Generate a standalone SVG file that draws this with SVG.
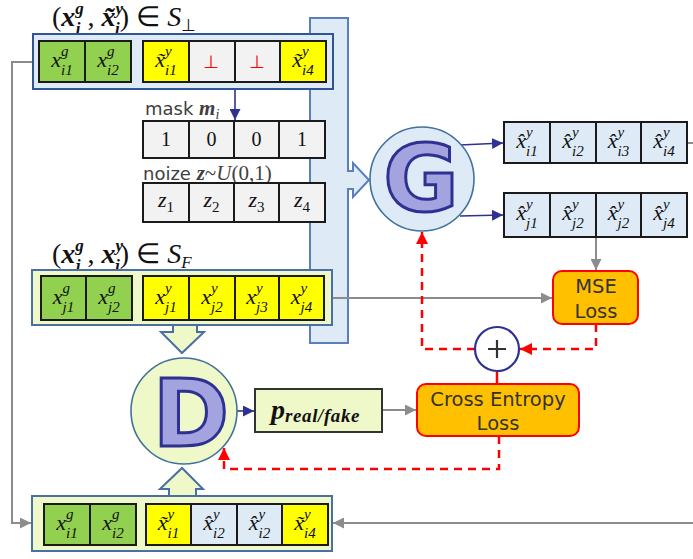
<svg xmlns="http://www.w3.org/2000/svg" width="693" height="559" viewBox="0 0 693 559">
<style>
.cg{fill:#92D050;stroke:#1a1a1a;stroke-width:2}
.cy{fill:#FFFF00;stroke:#1a1a1a;stroke-width:2}
.cw{fill:#F2F2F2;stroke:#1a1a1a;stroke-width:2}
.cb{fill:#DEEBF7;stroke:#1a1a1a;stroke-width:2}
.m{font-family:"Liberation Serif",serif;font-style:italic;font-size:22px;fill:#111}
.s{font-size:15px}
.n{font-family:"Liberation Serif",serif;font-size:20px;fill:#111}
.lab{font-family:"DejaVu Sans",sans-serif;font-size:18px;fill:#404040}
.ttl{font-family:"Liberation Serif",serif;font-size:28px;fill:#111}
.bi{font-weight:bold;font-style:italic}
.loss{font-family:"DejaVu Sans",sans-serif;font-size:19.5px;fill:#333;text-anchor:middle}
.gray{fill:none;stroke:#8c8c8c;stroke-width:2}
.blue{fill:none;stroke:#2E3192;stroke-width:1.6}
.red{fill:none;stroke:#FF0000;stroke-width:2.5;stroke-dasharray:8,6}
.big{font-family:"DejaVu Sans",sans-serif;font-weight:bold;font-size:92px;fill:#A3A3E0;stroke:#2E3192;stroke-width:3;text-anchor:middle}
</style>
<defs>
<marker id="ag" viewBox="0 0 10 10" refX="10" refY="5" markerWidth="11" markerHeight="11" markerUnits="userSpaceOnUse" orient="auto"><path d="M0,0 L10,5 L0,10 z" fill="#8c8c8c"/></marker>
<marker id="ab" viewBox="0 0 10 10" refX="10" refY="5" markerWidth="11" markerHeight="11" markerUnits="userSpaceOnUse" orient="auto"><path d="M0,0 L10,5 L0,10 z" fill="#2E3192"/></marker>
<marker id="ar" viewBox="0 0 10 10" refX="10" refY="5" markerWidth="12" markerHeight="12" markerUnits="userSpaceOnUse" orient="auto"><path d="M0,0 L10,5 L0,10 z" fill="#FF0000"/></marker>
</defs>

<g id="generator-input">
<path d="M310,18 H348 V171 H353 V163 L369,180 L353,197 V189 H348 V343 H310 Z" fill="#DEEBF7" stroke="#5A7FBE" stroke-width="2"/>
</g>

<g id="connectors">
<path class="gray" d="M33,62 H12 V523 H31" marker-end="url(#ag)"/>
<path class="gray" d="M693,523 H333" marker-end="url(#ag)"/>
<path class="gray" d="M687,143 H693"/>
<path class="gray" d="M325,298 H552" marker-end="url(#ag)"/>
<path class="gray" d="M596,237 V270" marker-end="url(#ag)"/>
<path class="gray" d="M382,410 H416" marker-end="url(#ag)"/>
<path class="blue" d="M235,82 V120" marker-end="url(#ab)"/>
<path class="blue" d="M460,145 L503,143" marker-end="url(#ab)"/>
<path class="blue" d="M460,216 L503,215" marker-end="url(#ab)"/>
<path class="blue" d="M237,411 H254" marker-end="url(#ab)"/>
<path class="red" d="M596,324 V349 H520" marker-end="url(#ar)"/>
<path class="red" d="M475,349 H422 V232" marker-end="url(#ar)"/>
<path d="M497,371 V384" stroke="#FF0000" stroke-width="2.5"/>
<path class="red" d="M499,436 V469 H224 V448" marker-end="url(#ar)"/>
</g>

<g id="row-i">
<text class="ttl" x="52" y="26">(<tspan class="bi">x</tspan><tspan class="bi" font-size="17" dy="-12">g</tspan><tspan class="bi" font-size="17" dx="-8" dy="20">i</tspan><tspan dy="-8"> , </tspan><tspan class="bi">x̃</tspan><tspan class="bi" font-size="17" dy="-12">y</tspan><tspan class="bi" font-size="17" dx="-8" dy="20">i</tspan><tspan dy="-8">) ∈ </tspan><tspan font-style="italic">S</tspan><tspan font-size="17" dy="5">⊥</tspan></text>
<rect x="33" y="34" width="300" height="55" fill="#DEEBF7" stroke="#2F5597" stroke-width="2"/>
<rect class="cg" x="39" y="41" width="46" height="41"/>
<rect class="cg" x="85" y="41" width="46" height="41"/>
<rect class="cy" x="143" y="41" width="46" height="41"/>
<rect class="cw" x="189" y="41" width="46" height="41"/>
<rect class="cw" x="235" y="41" width="45" height="41"/>
<rect class="cy" x="280" y="41" width="46" height="41"/>
<text class="m" x="62" y="67" text-anchor="middle">x<tspan class="s" dy="-11">g</tspan><tspan class="s" dx="-7.5" dy="19">i1</tspan></text>
<text class="m" x="108" y="67" text-anchor="middle">x<tspan class="s" dy="-11">g</tspan><tspan class="s" dx="-7.5" dy="19">i2</tspan></text>
<text class="m" x="166" y="67" text-anchor="middle">x̃<tspan class="s" dy="-11">y</tspan><tspan class="s" dx="-6.7" dy="19">i1</tspan></text>
<text x="211" y="68" font-family="DejaVu Sans,sans-serif" font-size="18" fill="#FF0000" text-anchor="middle">⊥</text>
<text x="257" y="68" font-family="DejaVu Sans,sans-serif" font-size="18" fill="#FF0000" text-anchor="middle">⊥</text>
<text class="m" x="303" y="67" text-anchor="middle">x̃<tspan class="s" dy="-11">y</tspan><tspan class="s" dx="-6.7" dy="19">i4</tspan></text>
</g>

<g id="mask">
<text class="lab" x="145" y="115">mask <tspan font-family="Liberation Serif,serif" class="bi" font-size="21">m</tspan><tspan font-family="Liberation Serif,serif" font-style="italic" font-size="14" dy="4">i</tspan></text>
<rect class="cw" x="143" y="121" width="46" height="37"/>
<rect class="cw" x="189" y="121" width="45" height="37"/>
<rect class="cw" x="234" y="121" width="45" height="37"/>
<rect class="cw" x="279" y="121" width="46" height="37"/>
<text class="n" x="166" y="146" text-anchor="middle">1</text>
<text class="n" x="211.5" y="146" text-anchor="middle">0</text>
<text class="n" x="256.5" y="146" text-anchor="middle">0</text>
<text class="n" x="302" y="146" text-anchor="middle">1</text>
</g>

<g id="noise">
<text class="lab" x="143" y="180">noize <tspan font-family="Liberation Serif,serif" class="bi" font-size="21">z</tspan><tspan font-family="Liberation Serif,serif" font-size="21">~</tspan><tspan font-family="Liberation Serif,serif" font-style="italic" font-size="21">U</tspan><tspan font-family="Liberation Serif,serif" font-size="21">(0,1)</tspan></text>
<rect class="cw" x="143" y="183" width="46" height="39"/>
<rect class="cw" x="189" y="183" width="45" height="39"/>
<rect class="cw" x="234" y="183" width="45" height="39"/>
<rect class="cw" x="279" y="183" width="46" height="39"/>
<text class="m" x="166" y="207" text-anchor="middle">z<tspan class="s" font-style="normal" dy="5">1</tspan></text>
<text class="m" x="211.5" y="207" text-anchor="middle">z<tspan class="s" font-style="normal" dy="5">2</tspan></text>
<text class="m" x="256.5" y="207" text-anchor="middle">z<tspan class="s" font-style="normal" dy="5">3</tspan></text>
<text class="m" x="302" y="207" text-anchor="middle">z<tspan class="s" font-style="normal" dy="5">4</tspan></text>
</g>

<g id="row-j">
<text class="ttl" x="52" y="263">(<tspan class="bi">x</tspan><tspan class="bi" font-size="17" dy="-12">g</tspan><tspan class="bi" font-size="17" dx="-8" dy="20">j</tspan><tspan dy="-8"> , </tspan><tspan class="bi">x</tspan><tspan class="bi" font-size="17" dy="-12">y</tspan><tspan class="bi" font-size="17" dx="-8" dy="20">j</tspan><tspan dy="-8">) ∈ </tspan><tspan font-style="italic">S</tspan><tspan font-style="italic" font-size="17" dy="5">F</tspan></text>
<path d="M173,325 V332 H161 L182,353 L204,332 H197 V325" fill="#EEF8C8" stroke="#4A6FA5" stroke-width="2"/>
<rect x="32" y="270" width="300" height="55" fill="#EEF8C8" stroke="#4A6FA5" stroke-width="2"/>
<rect class="cg" x="41" y="276" width="45" height="44"/>
<rect class="cg" x="86" y="276" width="46" height="44"/>
<rect class="cy" x="143" y="276" width="46" height="44"/>
<rect class="cy" x="189" y="276" width="46" height="44"/>
<rect class="cy" x="235" y="276" width="44" height="44"/>
<rect class="cy" x="279" y="276" width="45" height="44"/>
<text class="m" x="63.5" y="304" text-anchor="middle">x<tspan class="s" dy="-11">g</tspan><tspan class="s" dx="-7.5" dy="19">j1</tspan></text>
<text class="m" x="109" y="304" text-anchor="middle">x<tspan class="s" dy="-11">g</tspan><tspan class="s" dx="-7.5" dy="19">j2</tspan></text>
<text class="m" x="166" y="304" text-anchor="middle">x<tspan class="s" dy="-11">y</tspan><tspan class="s" dx="-6.7" dy="19">j1</tspan></text>
<text class="m" x="212" y="304" text-anchor="middle">x<tspan class="s" dy="-11">y</tspan><tspan class="s" dx="-6.7" dy="19">j2</tspan></text>
<text class="m" x="257" y="304" text-anchor="middle">x<tspan class="s" dy="-11">y</tspan><tspan class="s" dx="-6.7" dy="19">j3</tspan></text>
<text class="m" x="301.5" y="304" text-anchor="middle">x<tspan class="s" dy="-11">y</tspan><tspan class="s" dx="-6.7" dy="19">j4</tspan></text>
</g>

<g id="G">
<circle cx="422" cy="179" r="52" fill="#DEEBF7" stroke="#41719C" stroke-width="1.6"/>
<text class="big" x="421" y="211">G</text>
</g>

<g id="out-i">
<rect class="cb" x="504" y="122" width="46" height="41"/>
<rect class="cb" x="550" y="122" width="46" height="41"/>
<rect class="cb" x="596" y="122" width="45" height="41"/>
<rect class="cb" x="641" y="122" width="46" height="41"/>
<text class="m" x="527" y="148" text-anchor="middle">x̂<tspan class="s" dy="-11">y</tspan><tspan class="s" dx="-6.7" dy="19">i1</tspan></text>
<text class="m" x="573" y="148" text-anchor="middle">x̂<tspan class="s" dy="-11">y</tspan><tspan class="s" dx="-6.7" dy="19">i2</tspan></text>
<text class="m" x="618.5" y="148" text-anchor="middle">x̂<tspan class="s" dy="-11">y</tspan><tspan class="s" dx="-6.7" dy="19">i3</tspan></text>
<text class="m" x="664" y="148" text-anchor="middle">x̂<tspan class="s" dy="-11">y</tspan><tspan class="s" dx="-6.7" dy="19">i4</tspan></text>
</g>

<g id="out-j">
<rect class="cb" x="504" y="193" width="46" height="44"/>
<rect class="cb" x="550" y="193" width="46" height="44"/>
<rect class="cb" x="596" y="193" width="45" height="44"/>
<rect class="cb" x="641" y="193" width="46" height="44"/>
<text class="m" x="527" y="220" text-anchor="middle">x̂<tspan class="s" dy="-11">y</tspan><tspan class="s" dx="-6.7" dy="19">j1</tspan></text>
<text class="m" x="573" y="220" text-anchor="middle">x̂<tspan class="s" dy="-11">y</tspan><tspan class="s" dx="-6.7" dy="19">j2</tspan></text>
<text class="m" x="618.5" y="220" text-anchor="middle">x̂<tspan class="s" dy="-11">y</tspan><tspan class="s" dx="-6.7" dy="19">j2</tspan></text>
<text class="m" x="664" y="220" text-anchor="middle">x̂<tspan class="s" dy="-11">y</tspan><tspan class="s" dx="-6.7" dy="19">j4</tspan></text>
</g>

<g id="mse">
<rect x="553" y="271" width="85" height="53" rx="9" fill="#FFC000" stroke="#FF0000" stroke-width="2"/>
<text class="loss" x="596" y="293">MSE</text>
<text class="loss" x="596" y="318">Loss</text>
</g>

<g id="plus">
<circle cx="497" cy="349" r="22" fill="#fff" stroke="#2E3192" stroke-width="2.2"/>
<path d="M488,349 H506 M497,340 V358" stroke="#333" stroke-width="2.2"/>
</g>

<g id="ce">
<rect x="417" y="384" width="162" height="52" rx="9" fill="#FFC000" stroke="#FF0000" stroke-width="2"/>
<text class="loss" x="498" y="406">Cross Entropy</text>
<text class="loss" x="498" y="430">Loss</text>
</g>

<g id="D">
<circle cx="184" cy="411" r="53" fill="#EEF8C8" stroke="#41719C" stroke-width="1.6"/>
<text class="big" x="191" y="446">D</text>
</g>

<g id="p">
<rect x="255" y="389" width="127" height="43" fill="#EEF8C8" stroke="#333" stroke-width="2"/>
<text x="271" y="419" font-family="Liberation Serif,serif" font-weight="bold" font-style="italic" font-size="28" fill="#111">p<tspan font-size="19" letter-spacing="0.6" dy="3">real/fake</tspan></text>
</g>

<g id="row-mix">
<path d="M169,496 V489 H160 L182,468 L203,489 H196 V496" fill="#EEF8C8" stroke="#4A6FA5" stroke-width="2"/>
<rect x="32" y="496" width="300" height="55" fill="#EEF8C8" stroke="#4A6FA5" stroke-width="2"/>
<rect class="cg" x="44" y="504" width="46" height="41"/>
<rect class="cg" x="90" y="504" width="46" height="41"/>
<rect class="cy" x="146" y="504" width="45" height="41"/>
<rect class="cb" x="191" y="504" width="46" height="41"/>
<rect class="cb" x="237" y="504" width="45" height="41"/>
<rect class="cy" x="282" y="504" width="46" height="41"/>
<text class="m" x="67" y="530" text-anchor="middle">x<tspan class="s" dy="-11">g</tspan><tspan class="s" dx="-7.5" dy="19">i1</tspan></text>
<text class="m" x="113" y="530" text-anchor="middle">x<tspan class="s" dy="-11">g</tspan><tspan class="s" dx="-7.5" dy="19">i2</tspan></text>
<text class="m" x="168.5" y="530" text-anchor="middle">x̃<tspan class="s" dy="-11">y</tspan><tspan class="s" dx="-6.7" dy="19">i1</tspan></text>
<text class="m" x="214" y="530" text-anchor="middle" fill="#333">x̂<tspan class="s" dy="-11">y</tspan><tspan class="s" dx="-6.7" dy="19">i2</tspan></text>
<text class="m" x="259.5" y="530" text-anchor="middle" fill="#333">x̂<tspan class="s" dy="-11">y</tspan><tspan class="s" dx="-6.7" dy="19">i2</tspan></text>
<text class="m" x="305" y="530" text-anchor="middle">x̃<tspan class="s" dy="-11">y</tspan><tspan class="s" dx="-6.7" dy="19">i4</tspan></text>
</g>
</svg>
